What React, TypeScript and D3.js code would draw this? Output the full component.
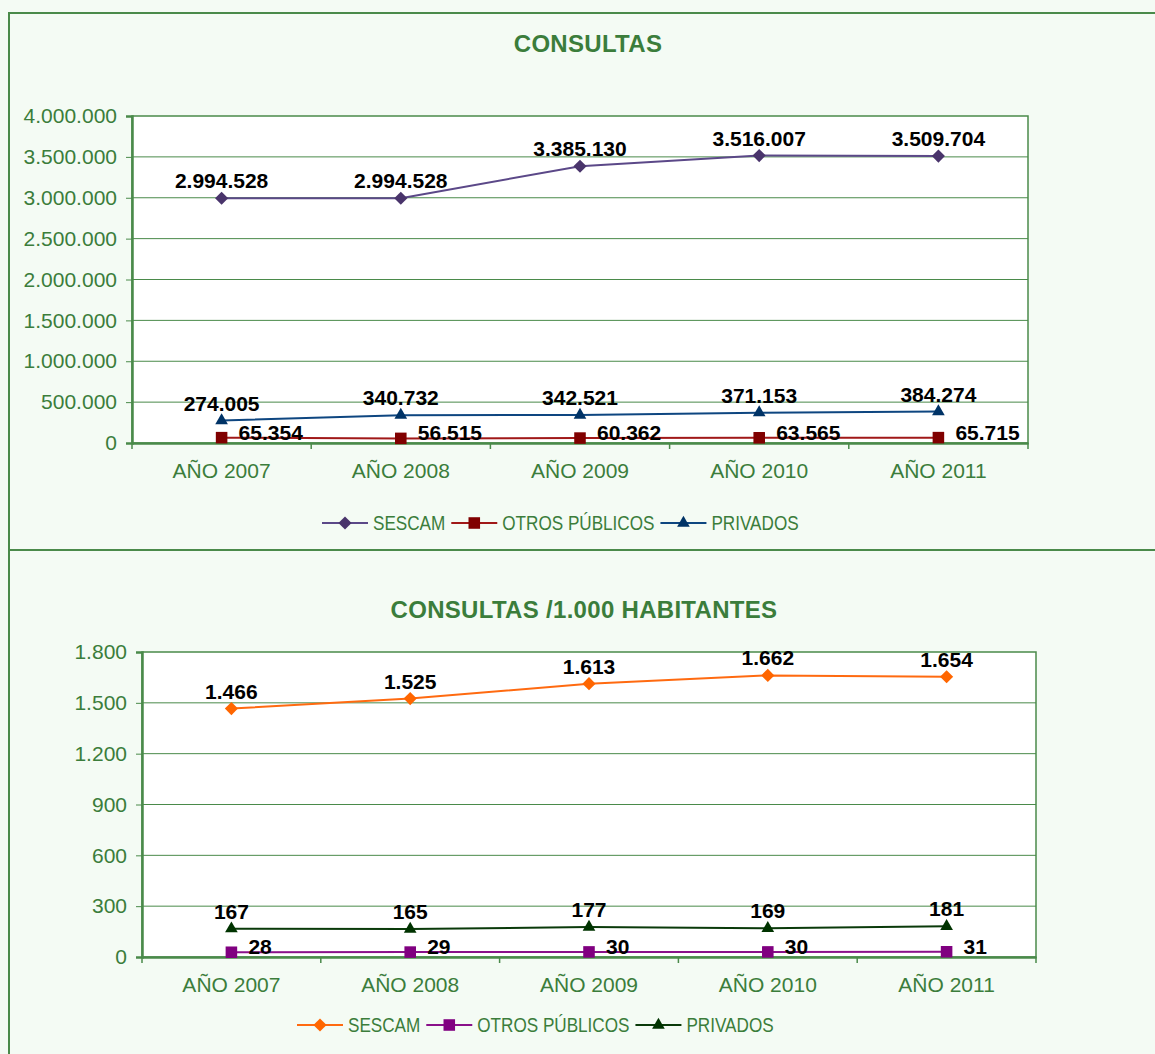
import React, { useEffect, useRef } from 'react';
import * as d3 from 'd3';

// data
const years = ['AÑO 2007', 'AÑO 2008', 'AÑO 2009', 'AÑO 2010', 'AÑO 2011'];

const sescam = [2994528, 2994528, 3385130, 3516007, 3509704];
const otrosPublicos = [65354, 56515, 60362, 63565, 65715];
const privados = [274005, 340732, 342521, 371153, 384274];

const sescamHab = [1466, 1525, 1613, 1662, 1654];
const otrosHab = [28, 29, 30, 30, 31];
const privadosHab = [167, 165, 177, 169, 181];

const ticksTop = [0, 500000, 1000000, 1500000, 2000000, 2500000, 3000000, 3500000, 4000000];
const ticksBottom = [0, 300, 600, 900, 1200, 1500, 1800];

const green = '#3b7d3b';
const lineGreen = '#4a8a4a';
const panelBg = '#f4fbf4';
const font = '"Liberation Sans", Arial, sans-serif';

const es = d3.formatLocale({ decimal: ',', thousands: '.', grouping: [3], currency: ['', ''] });
const fmt = es.format(',d');

type Series = {
  name: string;
  values: number[];
  line: string;
  fill: string;
  shape: 'diamond' | 'square' | 'triangle';
  label: 'above' | 'right';
};

type Panel = {
  title: string;
  titleX: number;
  titleY: number;
  left: number;
  right: number;
  top: number;
  bottom: number;
  max: number;
  ticks: number[];
  legendY: number;
  legendX: number;
  series: Series[];
};

const panels: Panel[] = [
  {
    title: 'CONSULTAS',
    titleX: 588,
    titleY: 52,
    left: 132, right: 1028, top: 116, bottom: 443,
    max: 4000000,
    ticks: ticksTop,
    legendY: 523,
    legendX: 322,
    series: [
      { name: 'SESCAM', values: sescam, line: '#5b4888', fill: '#49346b', shape: 'diamond', label: 'above' },
      { name: 'OTROS PÚBLICOS', values: otrosPublicos, line: '#a01818', fill: '#800000', shape: 'square', label: 'right' },
      { name: 'PRIVADOS', values: privados, line: '#0e4680', fill: '#003366', shape: 'triangle', label: 'above' },
    ],
  },
  {
    title: 'CONSULTAS /1.000 HABITANTES',
    titleX: 584,
    titleY: 618,
    left: 142, right: 1036, top: 652, bottom: 957,
    max: 1800,
    ticks: ticksBottom,
    legendY: 1025,
    legendX: 297,
    series: [
      { name: 'SESCAM', values: sescamHab, line: '#ff6a10', fill: '#ff6600', shape: 'diamond', label: 'above' },
      { name: 'OTROS PÚBLICOS', values: otrosHab, line: '#8a108a', fill: '#800080', shape: 'square', label: 'right' },
      { name: 'PRIVADOS', values: privadosHab, line: '#0a3a0a', fill: '#003300', shape: 'triangle', label: 'above' },
    ],
  },
];

const symbolFor = (shape: string) =>
  shape === 'diamond'
    ? d3.symbol(d3.symbolDiamond2, 110)
    : shape === 'square'
    ? d3.symbol(d3.symbolSquare2, 170)
    : d3.symbol(d3.symbolTriangle2, 115);

const App = () => {
  const svgRef = useRef<SVGSVGElement>(null);

  useEffect(() => {
    const svg = d3.select(svgRef.current);
    svg.selectAll('*').remove();

    // panel backgrounds and borders
    svg.append('rect').attr('width', 1155).attr('height', 1054).attr('fill', panelBg);
    svg.append('rect').attr('x', 9).attr('y', 13).attr('width', 1160).attr('height', 537)
      .attr('fill', 'none').attr('stroke', lineGreen).attr('stroke-width', 2);
    svg.append('rect').attr('x', 9).attr('y', 550).attr('width', 1160).attr('height', 520)
      .attr('fill', 'none').attr('stroke', lineGreen).attr('stroke-width', 2);

    panels.forEach((p) => {
      const g = svg.append('g');
      const x = d3.scaleBand<string>().domain(years).range([p.left, p.right]);
      const y = d3.scaleLinear().domain([0, p.max]).range([p.bottom, p.top]);
      const cx = (i: number) => (x(years[i]) as number) + x.bandwidth() / 2;

      g.append('text').attr('x', p.titleX).attr('y', p.titleY).attr('text-anchor', 'middle')
        .attr('font-family', font).attr('font-weight', 'bold').attr('font-size', 24)
        .attr('letter-spacing', 0.3).attr('fill', green).text(p.title);

      g.append('rect').attr('x', p.left).attr('y', p.top)
        .attr('width', p.right - p.left).attr('height', p.bottom - p.top)
        .attr('fill', '#fff').attr('stroke', lineGreen).attr('stroke-width', 1.5);

      // gridlines
      g.selectAll('.grid').data(p.ticks.filter((t) => t > 0 && t < p.max)).join('line')
        .attr('x1', p.left).attr('x2', p.right)
        .attr('y1', (d) => y(d)).attr('y2', (d) => y(d))
        .attr('stroke', lineGreen).attr('stroke-width', 1);

      // y axis
      const yAxis = g.append('g').attr('transform', `translate(${p.left},0)`)
        .call(d3.axisLeft(y).tickValues(p.ticks).tickSize(6).tickPadding(9).tickFormat((d) => fmt(d as number)));
      yAxis.select('.domain').attr('stroke', lineGreen).attr('stroke-width', 2.5);
      yAxis.selectAll('.tick line').attr('stroke', lineGreen);
      yAxis.selectAll('.tick text').attr('fill', green).attr('font-family', font).attr('font-size', 21);

      // x axis
      const xAxis = g.append('g').attr('transform', `translate(0,${p.bottom})`)
        .call(d3.axisBottom(x).tickSize(0).tickPadding(20));
      xAxis.select('.domain').attr('stroke', lineGreen).attr('stroke-width', 2.5);
      xAxis.selectAll('.tick text').attr('fill', green).attr('font-family', font).attr('font-size', 21);
      g.selectAll('.xtick').data(d3.range(years.length + 1)).join('line')
        .attr('x1', (i) => p.left + i * x.step()).attr('x2', (i) => p.left + i * x.step())
        .attr('y1', p.bottom).attr('y2', p.bottom + 6)
        .attr('stroke', lineGreen).attr('stroke-width', 1.5);

      const line = d3.line<number>().x((_, i) => cx(i)).y((d) => y(d));

      p.series.forEach((s) => {
        g.append('path').attr('d', line(s.values)).attr('fill', 'none')
          .attr('stroke', s.line).attr('stroke-width', 2);
        g.selectAll(null).data(s.values).join('path')
          .attr('d', symbolFor(s.shape)())
          .attr('transform', (d, i) => `translate(${cx(i)},${y(d)})`)
          .attr('fill', s.fill);
        g.selectAll(null).data(s.values).join('text')
          .attr('x', (d, i) => (s.label === 'above' ? cx(i) : cx(i) + 17))
          .attr('y', (d) => (s.label === 'above' ? y(d) - 10 : y(d) + 2))
          .attr('text-anchor', s.label === 'above' ? 'middle' : 'start')
          .attr('font-family', font).attr('font-weight', 'bold').attr('font-size', 21)
          .attr('fill', '#000').text((d) => fmt(d));
      });

      // legend (text is drawn condensed, like the original)
      let lx = p.legendX;
      p.series.forEach((s) => {
        const lg = g.append('g');
        lg.append('line').attr('x1', lx).attr('x2', lx + 46)
          .attr('y1', p.legendY).attr('y2', p.legendY)
          .attr('stroke', s.line).attr('stroke-width', 2);
        lg.append('path').attr('d', symbolFor(s.shape)())
          .attr('transform', `translate(${lx + 23},${p.legendY})`).attr('fill', s.fill);
        const t = lg.append('text').attr('x', lx + 51).attr('y', p.legendY + 7)
          .attr('font-family', font).attr('font-size', 21).attr('fill', green).text(s.name);
        const w = (t.node() as SVGTextElement).getComputedTextLength() * 0.815;
        t.attr('textLength', w).attr('lengthAdjust', 'spacingAndGlyphs');
        lx += 51 + w + 6;
      });
    });
  }, []);

  return (
    <svg ref={svgRef} width={1155} height={1054}
      style={{ position: 'absolute', left: 0, top: 0, display: 'block' }} />
  );
};

export default App;
